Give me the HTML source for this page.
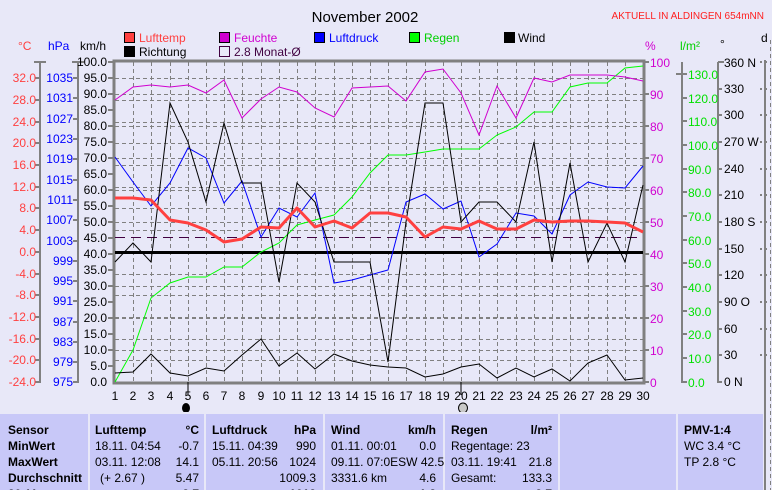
<!DOCTYPE html>
<html><head><meta charset="utf-8"><style>
html,body{margin:0;padding:0;background:#e8e8f8;}
svg{display:block;font-family:"Liberation Sans",sans-serif;}
</style></head><body>
<svg width="772" height="490" viewBox="0 0 772 490" xmlns="http://www.w3.org/2000/svg">
<rect width="772" height="490" fill="#e8e8f8"/>
<text x="365" y="22" font-size="15" text-anchor="middle" fill="#000">November 2002</text>
<text x="764" y="19" font-size="10" text-anchor="end" fill="#ff2020">AKTUELL IN ALDINGEN 654mNN</text>
<g font-size="12">
<rect x="124.5" y="32.5" width="10" height="10" fill="#ff4040" stroke="#000"/><text x="139" y="42" fill="#ff4040">Lufttemp</text>
<rect x="219.5" y="32.5" width="10" height="10" fill="#d000d0" stroke="#000"/><text x="234" y="42" fill="#d000d0">Feuchte</text>
<rect x="314.5" y="32.5" width="10" height="10" fill="#0000ff" stroke="#000"/><text x="329" y="42" fill="#0000ff">Luftdruck</text>
<rect x="409.5" y="32.5" width="10" height="10" fill="#00ff00" stroke="#000"/><text x="424" y="42" fill="#00d000">Regen</text>
<rect x="504.5" y="32.5" width="10" height="10" fill="#000" stroke="#000"/><text x="518" y="42" fill="#000">Wind</text>
<rect x="124.5" y="46.5" width="10" height="10" fill="#000" stroke="#000"/><text x="139" y="56" fill="#000">Richtung</text>
<rect x="219.5" y="46.5" width="10" height="10" fill="none" stroke="#400040"/><text x="234" y="56" fill="#400040">2.8 Monat-Ø</text>
<text x="18" y="50" fill="#ff4040">°C</text>
<text x="48" y="50" fill="#0000ff">hPa</text>
<text x="80" y="50" fill="#000">km/h</text>
<text x="645" y="50" fill="#d000d0">%</text>
<text x="680" y="50" fill="#00d000">l/m²</text>
<text x="720" y="48" fill="#000">°</text>
<text x="761" y="42" fill="#000">d</text>
</g>
<!-- grid -->
<g stroke="#808080" stroke-width="1" stroke-dasharray="4,3" fill="none">
<path d="M133.5 62V382M151.5 62V382M170.5 62V382M188.5 62V382M206.5 62V382M224.5 62V382M242.5 62V382M261.5 62V382M279.5 62V382M297.5 62V382M315.5 62V382M334.5 62V382M352.5 62V382M370.5 62V382M388.5 62V382M406.5 62V382M425.5 62V382M443.5 62V382M461.5 62V382M479.5 62V382M497.5 62V382M516.5 62V382M534.5 62V382M552.5 62V382M570.5 62V382M588.5 62V382M607.5 62V382M625.5 62V382"/>
<path d="M115 78.5H643M115 100.5H643M115 122.5H643M115 143.5H643M115 165.5H643M115 187.5H643M115 208.5H643M115 230.5H643M115 274.5H643M115 295.5H643M115 317.5H643M115 339.5H643M115 360.5H643"/>
<path d="M115 94.5H643M115 126.5H643M115 158.5H643M115 190.5H643M115 222.5H643M115 286.5H643M115 318.5H643M115 350.5H643"/>
<path d="M770.5 40V490"/>
</g>
<!-- frame -->
<rect x="114" y="61" width="530" height="322" fill="none" stroke="#808080" stroke-width="3"/>
<!-- axes -->
<g stroke="#808080" stroke-width="2" fill="none">
<path d="M40 62V383M78 62V383M682 62V383M718 62V383M765 60V490"/>
<path d="M34 62H46M72 62H84M108 62H114"/>
<path d="M35 78H40M35 100H40M35 122H40M35 143H40M35 165H40M35 187H40M35 208H40M35 230H40M35 252H40M35 274H40M35 295H40M35 317H40M35 339H40M35 360H40M35 382H40"/>
<path d="M73 78H78M73 98H78M73 119H78M73 139H78M73 159H78M73 180H78M73 200H78M73 220H78M73 241H78M73 261H78M73 281H78M73 301H78M73 322H78M73 342H78M73 362H78M73 382H78"/>
<path d="M108 78H114M108 94H114M108 110H114M108 126H114M108 142H114M108 158H114M108 174H114M108 190H114M108 206H114M108 222H114M108 238H114M108 254H114M108 270H114M108 286H114M108 302H114M108 318H114M108 334H114M108 350H114M108 366H114"/>
<path d="M643 62H649M643 94H649M643 126H649M643 158H649M643 190H649M643 222H649M643 254H649M643 286H649M643 318H649M643 350H649M643 382H649"/>
<path d="M676 74H687M682 98H687M682 121H687M682 145H687M682 169H687M682 192H687M682 216H687M682 240H687M682 263H687M682 287H687M682 311H687M682 334H687M682 358H687M682 382H687"/>
<path d="M718 62H724M718 89H722M718 115H722M718 142H722M718 169H722M718 195H722M718 222H722M718 249H722M718 275H722M718 302H722M718 329H722M718 355H722M718 382H722"/>
<path d="M760 62H770M760 89H770M760 115H770M760 142H770M760 169H770M760 195H770M760 222H770M760 249H770M760 275H770M760 302H770M760 329H770M760 355H770" stroke-dasharray="2,3"/>
</g>
<g font-size="12">
<g fill="#ff4040" text-anchor="end">
<text x="36" y="82">32.0</text><text x="36" y="104">28.0</text><text x="36" y="126">24.0</text><text x="36" y="147">20.0</text><text x="36" y="169">16.0</text><text x="36" y="191">12.0</text><text x="36" y="212">8.0</text><text x="36" y="234">4.0</text><text x="36" y="256">0.0</text><text x="36" y="278">-4.0</text><text x="36" y="299">-8.0</text><text x="36" y="321">-12.0</text><text x="36" y="343">-16.0</text><text x="36" y="364">-20.0</text><text x="36" y="386">-24.0</text>
</g>
<g fill="#0000ff" text-anchor="end">
<text x="73" y="82">1035</text><text x="73" y="102">1031</text><text x="73" y="123">1027</text><text x="73" y="143">1023</text><text x="73" y="163">1019</text><text x="73" y="184">1015</text><text x="73" y="204">1011</text><text x="73" y="224">1007</text><text x="73" y="245">1003</text><text x="73" y="265">999</text><text x="73" y="285">995</text><text x="73" y="305">991</text><text x="73" y="326">987</text><text x="73" y="346">983</text><text x="73" y="366">979</text><text x="73" y="386">975</text>
</g>
<g fill="#000" text-anchor="end">
<text x="107" y="66">100.0</text><text x="107" y="82">95.0</text><text x="107" y="98">90.0</text><text x="107" y="114">85.0</text><text x="107" y="130">80.0</text><text x="107" y="146">75.0</text><text x="107" y="162">70.0</text><text x="107" y="178">65.0</text><text x="107" y="194">60.0</text><text x="107" y="210">55.0</text><text x="107" y="226">50.0</text><text x="107" y="242">45.0</text><text x="107" y="258">40.0</text><text x="107" y="274">35.0</text><text x="107" y="290">30.0</text><text x="107" y="306">25.0</text><text x="107" y="322">20.0</text><text x="107" y="338">15.0</text><text x="107" y="354">10.0</text><text x="107" y="370">5.0</text><text x="107" y="386">0.0</text>
</g>
<g fill="#d000d0">
<text x="650" y="67">100</text><text x="650" y="99">90</text><text x="650" y="131">80</text><text x="650" y="163">70</text><text x="650" y="195">60</text><text x="650" y="227">50</text><text x="650" y="259">40</text><text x="650" y="291">30</text><text x="650" y="323">20</text><text x="650" y="355">10</text><text x="650" y="387">0</text>
</g>
<g fill="#00e000">
<text x="688" y="79">130.0</text><text x="688" y="103">120.0</text><text x="688" y="126">110.0</text><text x="688" y="150">100.0</text><text x="688" y="174">90.0</text><text x="688" y="197">80.0</text><text x="688" y="221">70.0</text><text x="688" y="245">60.0</text><text x="688" y="268">50.0</text><text x="688" y="292">40.0</text><text x="688" y="316">30.0</text><text x="688" y="339">20.0</text><text x="688" y="363">10.0</text><text x="688" y="387">0.0</text>
</g>
<g fill="#000">
<text x="724" y="67">360 N</text><text x="724" y="93">330</text><text x="724" y="119">300</text><text x="724" y="146">270 W</text><text x="724" y="173">240</text><text x="724" y="199">210</text><text x="724" y="226">180 S</text><text x="724" y="253">150</text><text x="724" y="279">120</text><text x="724" y="306">90 O</text><text x="724" y="333">60</text><text x="724" y="359">30</text><text x="724" y="386">0 N</text>
</g>
<g fill="#000" text-anchor="middle">
<text x="115" y="400">1</text><text x="133" y="400">2</text><text x="151" y="400">3</text><text x="170" y="400">4</text><text x="188" y="400">5</text><text x="206" y="400">6</text><text x="224" y="400">7</text><text x="242" y="400">8</text><text x="261" y="400">9</text><text x="279" y="400">10</text><text x="297" y="400">11</text><text x="315" y="400">12</text><text x="334" y="400">13</text><text x="352" y="400">14</text><text x="370" y="400">15</text><text x="388" y="400">16</text><text x="406" y="400">17</text><text x="425" y="400">18</text><text x="443" y="400">19</text><text x="461" y="400">20</text><text x="479" y="400">21</text><text x="497" y="400">22</text><text x="516" y="400">23</text><text x="534" y="400">24</text><text x="552" y="400">25</text><text x="570" y="400">26</text><text x="588" y="400">27</text><text x="607" y="400">28</text><text x="625" y="400">29</text><text x="643" y="400">30</text>
</g>
</g>
<!-- moon markers -->
<path d="M188 382V395M461 382V395" stroke="#000" stroke-width="1"/>
<ellipse cx="186" cy="408" rx="4" ry="5" fill="#000"/>
<ellipse cx="463" cy="408" rx="4.5" ry="5" fill="#c8c8c8" stroke="#000"/>
<!-- reference lines -->
<path d="M115 237.5H643" stroke="#400040" stroke-width="1" stroke-dasharray="10,6"/>
<path d="M115 252.5H643" stroke="#000" stroke-width="3"/>
<!-- series -->
<polyline fill="none" stroke="#00ff00" stroke-width="1" points="115,382 133,350 151,298 170,283 188,277 206,277 224,267 242,267 261,252 279,243 297,225 315,220 334,215 352,197 370,173 388,155 406,155 425,152 443,149 461,149 479,149 497,135 516,127 534,112 552,112 570,87 588,83 607,83 625,68 643,66"/>
<polyline fill="none" stroke="#d000d0" stroke-width="1" points="115,100 133,87 151,85 170,87 188,85 206,93 224,80 242,118 261,99 279,87 297,92 315,108 334,117 352,88 370,87 388,86 406,101 425,72 443,69 461,93 479,135 497,86 516,118 534,78 552,82 570,75 588,75 607,75 625,77 643,81"/>
<polyline fill="none" stroke="#0000ff" stroke-width="1" points="115,157 133,182 151,206 170,183 188,148 206,158 224,203 242,181 261,237 279,208 297,217 315,193 334,283 352,280 370,275 388,270 406,202 425,194 443,209 461,201 479,257 497,244 516,213 534,216 552,234 570,195 588,182 607,187 625,188 643,166"/>
<polyline fill="none" stroke="#000" stroke-width="1" points="115,262 133,243 151,262 170,103 188,142 206,202 224,123 242,183 261,183 279,282 297,183 315,202 334,262 352,262 370,262 388,362 406,222 425,103 443,103 461,222 479,202 497,202 516,222 534,142 552,262 570,163 588,262 607,223 625,262 643,185"/>
<polyline fill="none" stroke="#000" stroke-width="1" points="115,373 133,372 151,354 170,373 188,376 206,368 224,371 242,355 261,339 279,366 297,353 315,369 334,354 352,361 370,365 388,367 406,368 425,377 443,374 461,367 479,364 497,378 516,368 534,377 552,369 570,381 588,363 607,355 625,380 643,378"/>
<polyline fill="none" stroke="#ff4040" stroke-width="3" stroke-linejoin="round" points="115,198 133,198 151,200 170,220 188,223 206,230 224,242 242,239 261,227 279,228 297,208 315,227 334,221 352,228 370,213 388,213 406,217 425,237 443,227 461,229 479,221 497,229 516,229 534,220 552,222 570,221 588,221 607,222 625,223 643,232"/>
<!-- table -->
<rect x="0" y="413" width="763" height="77" fill="#c8c8f8"/>
<g stroke="#e8e8f8" stroke-width="2">
<path d="M0 413H763M89 413V490M205 413V490M324 413V490M444 413V490M559 413V490M677 413V490"/>
</g>
<g font-size="12" fill="#000">
<g font-weight="bold">
<text x="8" y="434">Sensor</text><text x="8" y="450">MinWert</text><text x="8" y="466">MaxWert</text><text x="8" y="482">Durchschnitt</text><text x="8" y="498">30.11.</text>
<text x="95" y="434">Lufttemp</text><text x="199" y="434" text-anchor="end">°C</text>
<text x="212" y="434">Luftdruck</text><text x="316" y="434" text-anchor="end">hPa</text>
<text x="331" y="434">Wind</text><text x="436" y="434" text-anchor="end">km/h</text>
<text x="451" y="434">Regen</text><text x="552" y="434" text-anchor="end">l/m²</text>
<text x="684" y="434">PMV-1:4</text>
<text x="199" y="498" text-anchor="end">2.7</text><text x="316" y="498" text-anchor="end">1013</text><text x="436" y="498" text-anchor="end">1.8</text><text x="552" y="498" text-anchor="end">2.7</text>
</g>
<text x="95" y="450">18.11.  04:54</text><text x="199" y="450" text-anchor="end">-0.7</text>
<text x="95" y="466">03.11.  12:08</text><text x="199" y="466" text-anchor="end">14.1</text>
<text x="100" y="482">(+ 2.67 )</text><text x="199" y="482" text-anchor="end">5.47</text>
<text x="212" y="450">15.11.  04:39</text><text x="316" y="450" text-anchor="end">990</text>
<text x="212" y="466">05.11.  20:56</text><text x="316" y="466" text-anchor="end">1024</text>
<text x="316" y="482" text-anchor="end">1009.3</text>
<text x="331" y="450">01.11.  00:01</text><text x="436" y="450" text-anchor="end">0.0</text>
<text x="331" y="466">09.11.  07:0ESW 42.5</text>
<text x="331" y="482">3331.6 km</text><text x="436" y="482" text-anchor="end">4.6</text>
<text x="451" y="450">Regentage: 23</text>
<text x="451" y="466">03.11.  19:41</text><text x="552" y="466" text-anchor="end">21.8</text>
<text x="451" y="482">Gesamt:</text><text x="552" y="482" text-anchor="end">133.3</text>
<text x="684" y="450">WC 3.4 °C</text>
<text x="684" y="466">TP 2.8 °C</text>
</g>
</svg>
</body></html>
